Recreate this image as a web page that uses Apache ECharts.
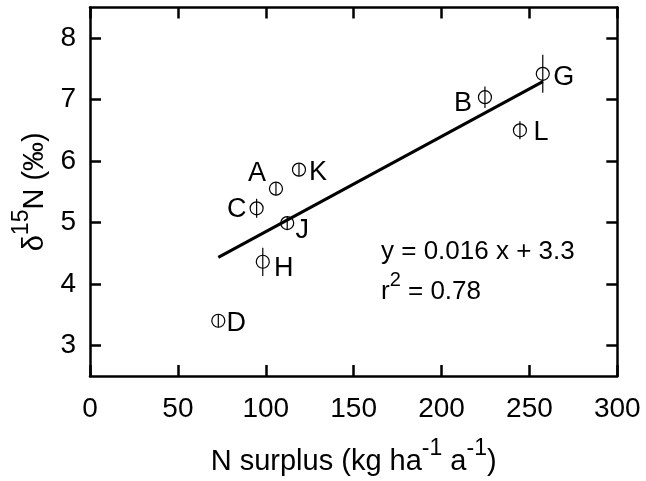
<!DOCTYPE html>
<html>
<head>
<meta charset="utf-8">
<script src="https://cdn.jsdelivr.net/npm/echarts@6/dist/echarts.min.js"></script>
<style>
  html, body { margin: 0; padding: 0; background: #fff; }
  #chart { width: 646px; height: 481px; }
</style>
</head>
<body>
<div id="chart"></div>
<script>
// Sites, N surplus (kg ha-1 a-1) and foliar δ15N (‰) with its uncertainty
const siteNames   = ['A', 'B', 'C', 'D', 'G', 'H', 'J', 'K', 'L'];
const nSurplus    = [105.8, 224.7, 94.8, 73.0, 257.6, 98.3, 112.2, 118.9, 244.6];
const delta15N    = [5.55, 7.04, 5.23, 3.40, 7.42, 4.36, 4.99, 5.86, 6.50];
const delta15NErr = [0.10, 0.175, 0.154, 0.08, 0.31, 0.23, 0.10, 0.08, 0.146];

// Axis ticks
const xTicks = [0, 50, 100, 150, 200, 250, 300];
const yTicks = [3, 4, 5, 6, 7, 8];

// Linear fit of δ15N against N surplus
const fitSlope = 0.0155;
const fitIntercept = 3.3;
const fitR2 = 0.78;

const FONT = '"Liberation Sans", Arial, Helvetica, sans-serif';
const TICK_FS = 28;
const LABEL_FS = 27;
const NOTE_FS = 26;
const TITLE_FS = 29;
const TITLE_MAIN = { fontSize: TITLE_FS, fontFamily: FONT, color: '#000' };
const TITLE_SUP = { fontSize: 23, fontFamily: FONT, color: '#000', padding: [0, 0, 26, 0] };
const NOTE_MAIN = { fontSize: NOTE_FS, fontFamily: FONT, color: '#000' };
const NOTE_SUP = { fontSize: 20, fontFamily: FONT, color: '#000', padding: [0, 0, 24, 0] };

// where each site letter sits relative to its marker
const labelOffset = {
  A: [-19, -15], B: [-22, 6], C: [-20, 1], D: [18, 3], G: [21, 4],
  H: [21, 7], J: [15, 7], K: [19, 3], L: [21, 2.5]
};

const points = siteNames.map((n, i) => [nSurplus[i], delta15N[i], delta15NErr[i]]);
const xMin = Math.min(...nSurplus), xMax = Math.max(...nSurplus);
const fitLine = [
  [xMin, fitSlope * xMin + fitIntercept],
  [xMax, fitSlope * xMax + fitIntercept]
];

const frameLine = { show: true, onZero: false, lineStyle: { color: '#000', width: 2.5 } };
const innerTick = { show: true, inside: true, length: 11, lineStyle: { color: '#000', width: 2.5 } };

const chart = echarts.init(document.getElementById('chart'));
chart.setOption({
  animation: false,
  backgroundColor: '#fff',
  grid: { left: 90, right: 28.7, top: 7.5, bottom: 103.5 },
  xAxis: [
    {
      type: 'value', min: 0, max: 300, interval: 50,
      position: 'bottom',
      axisLine: frameLine,
      axisTick: Object.assign({ customValues: xTicks }, innerTick),
      splitLine: { show: false },
      axisLabel: { customValues: xTicks, margin: 19, fontSize: TICK_FS, fontFamily: FONT, color: '#000' },
      name: '{m|N surplus (kg ha}{s|-1}{m| a}{s|-1}{m|)}',
      nameLocation: 'middle',
      nameGap: 61,
      nameTextStyle: { rich: { m: TITLE_MAIN, s: TITLE_SUP } }
    },
    {
      type: 'value', min: 0, max: 300, interval: 50,
      position: 'top',
      axisLine: frameLine,
      axisTick: Object.assign({ customValues: xTicks }, innerTick),
      axisLabel: { show: false },
      splitLine: { show: false }
    }
  ],
  yAxis: [
    {
      type: 'value', min: 2.5, max: 8.5,
      position: 'left',
      axisLine: frameLine,
      axisTick: Object.assign({ customValues: yTicks }, innerTick),
      splitLine: { show: false },
      axisLabel: { customValues: yTicks, margin: 14, fontSize: TICK_FS, fontFamily: FONT, color: '#000' },
      name: '{m|δ}{s|15}{m|N (‰)}',
      nameLocation: 'middle',
      nameGap: 30,
      nameTextStyle: { rich: { m: TITLE_MAIN, s: TITLE_SUP } }
    },
    {
      type: 'value', min: 2.5, max: 8.5,
      position: 'right',
      axisLine: frameLine,
      axisTick: Object.assign({ customValues: yTicks }, innerTick),
      axisLabel: { show: false },
      splitLine: { show: false }
    }
  ],
  graphic: [
    {
      type: 'text', x: 381, y: 251.5,
      style: {
        text: '{m|y = 0.016 x + 3.3}',
        rich: { m: NOTE_MAIN },
        verticalAlign: 'middle'
      }
    },
    {
      type: 'text', x: 381, y: 292,
      style: {
        text: '{m|r}{s|2}{m| = ' + fitR2.toFixed(2) + '}',
        rich: { m: NOTE_MAIN, s: NOTE_SUP },
        verticalAlign: 'middle'
      }
    }
  ],
  series: [
    {
      type: 'line',
      data: fitLine,
      symbol: 'none',
      lineStyle: { color: '#000', width: 3 },
      z: 2
    },
    {
      type: 'custom',
      data: points,
      z: 3,
      renderItem: function (params, api) {
        const x = api.value(0), y = api.value(1), e = api.value(2);
        const c = api.coord([x, y]);
        const yTop = api.coord([x, y + e])[1];
        const yBot = api.coord([x, y - e])[1];
        const r = 6.5;
        const name = siteNames[params.dataIndex];
        const off = labelOffset[name];
        return {
          type: 'group',
          children: [
            {
              type: 'circle',
              shape: { cx: c[0], cy: c[1], r: r },
              style: { fill: 'rgba(0,0,0,0)', stroke: '#000', lineWidth: 1.2 }
            },
            {
              type: 'line',
              shape: { x1: c[0], y1: Math.min(yTop, c[1] - r), x2: c[0], y2: Math.max(yBot, c[1] + r) },
              style: { stroke: '#000', lineWidth: 1.2 }
            },
            {
              type: 'text',
              x: c[0] + off[0], y: c[1] + off[1],
              style: {
                text: name, fill: '#000',
                fontSize: LABEL_FS, fontFamily: FONT,
                align: 'center', verticalAlign: 'middle'
              }
            }
          ]
        };
      }
    }
  ]
});
</script>
</body>
</html>
